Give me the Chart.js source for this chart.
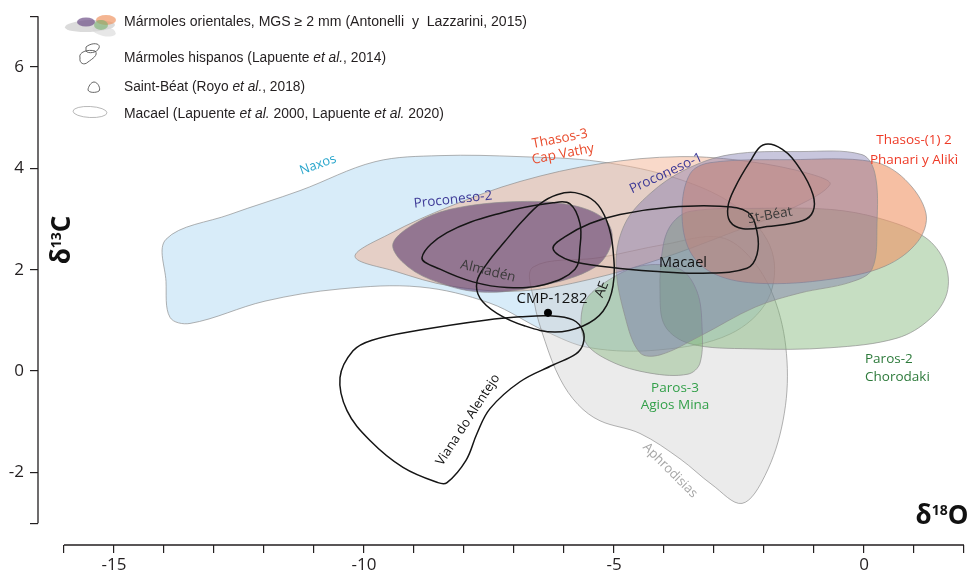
<!DOCTYPE html>
<html>
<head>
<meta charset="utf-8">
<script src="https://cdn.jsdelivr.net/npm/chart.js@4.4.1/dist/chart.umd.min.js"></script>
<style>
  html, body { margin: 0; padding: 0; background: #fff; }
  #wrap { width: 969px; height: 576px; }
</style>
</head>
<body>
<div id="wrap"><canvas id="c" width="969" height="576"></canvas></div>
<script>
// Isotopic fields of white marbles: δ18O (x) vs δ13C (y), ‰ V-PDB.
// Each field is a closed outline given as [δ18O, δ13C] vertices.

const naxos = [[-13.96,2.60],[-12.68,3.09],[-11.28,3.56],[-9.78,4.13],[-8.48,4.25],[-6.88,4.23],[-5.28,4.13],[-3.68,3.78],[-2.48,3.19],[-1.84,2.36],[-1.92,1.42],[-2.68,0.73],[-4.08,0.42],[-5.48,0.46],[-6.38,0.79],[-7.48,1.34],[-8.88,1.66],[-10.48,1.62],[-11.98,1.38],[-13.48,0.94],[-13.88,1.06],[-13.96,1.77]];
const aphrodisias = [[-6.62,2.05],[-5.28,2.24],[-3.98,2.50],[-2.88,2.64],[-2.24,2.20],[-1.76,1.34],[-1.54,0.20],[-1.62,-0.98],[-1.98,-2.06],[-2.44,-2.61],[-3.04,-2.24],[-3.68,-1.73],[-4.48,-1.23],[-5.28,-0.98],[-5.72,-0.66],[-6.08,-0.15],[-6.38,0.59],[-6.60,1.38]];
const thasos3 = [[-10.18,2.26],[-9.48,2.71],[-8.28,3.25],[-6.88,3.74],[-5.28,4.09],[-3.68,4.23],[-2.28,4.13],[-1.08,3.89],[-0.68,3.68],[-1.48,3.19],[-2.68,2.72],[-4.08,2.21],[-5.48,1.81],[-6.88,1.58],[-8.28,1.68],[-9.38,1.97]];
const paros2 = [[-3.84,2.91],[-3.48,3.15],[-2.08,3.21],[-0.68,3.19],[0.32,3.01],[1.22,2.64],[1.62,2.13],[1.66,1.54],[1.32,1.03],[0.66,0.65],[-0.68,0.46],[-2.28,0.44],[-3.48,0.54],[-3.98,0.89],[-4.08,1.57],[-4.02,2.46]];
const paros3 = [[-5.62,1.28],[-5.28,1.68],[-4.48,2.07],[-3.68,2.01],[-3.34,1.57],[-3.24,0.89],[-3.28,0.16],[-3.52,-0.06],[-4.28,-0.04],[-5.08,0.20],[-5.58,0.59]];
const thasos12 = [[-3.48,3.89],[-3.08,4.11],[-1.48,4.17],[0.18,4.13],[0.82,3.78],[1.24,3.11],[1.08,2.56],[0.42,2.07],[-0.68,1.81],[-2.08,1.73],[-2.98,1.91],[-3.48,2.36],[-3.64,3.15]];
const proconeso1 = [[-4.96,2.12],[-4.78,2.91],[-4.28,3.50],[-3.58,3.97],[-2.68,4.27],[-1.28,4.33],[-0.04,4.27],[0.22,3.89],[0.26,2.91],[0.16,2.01],[-0.28,1.75],[-1.28,1.54],[-2.18,1.26],[-3.28,0.69],[-4.08,0.32],[-4.48,0.36],[-4.78,1.08]];
const proconeso2 = [[-9.42,2.52],[-8.98,2.91],[-8.28,3.19],[-7.02,3.34],[-5.88,3.28],[-5.18,2.99],[-5.04,2.56],[-5.38,2.05],[-6.48,1.68],[-7.68,1.56],[-8.68,1.81],[-9.24,2.16]];

// Spanish / Portuguese / Pyrenean marble fields (outlines only)
const almaden = [[-8.84,2.24],[-8.34,2.73],[-7.22,3.13],[-6.22,3.32],[-5.88,3.30],[-5.68,2.91],[-5.68,2.46],[-5.78,2.01],[-6.38,1.71],[-7.14,1.65],[-7.82,1.76],[-8.48,2.01]];
const ae = [[-5.78,3.52],[-5.38,3.34],[-5.14,2.95],[-5.02,2.40],[-5.02,1.68],[-5.22,1.18],[-5.62,0.89],[-6.18,0.77],[-6.78,0.89],[-7.34,1.14],[-7.68,1.44],[-7.74,1.77],[-7.54,2.12],[-7.18,2.56],[-6.84,2.95],[-6.48,3.30],[-6.14,3.48]];
const macael = [[-6.22,2.42],[-5.96,2.66],[-5.48,2.91],[-4.88,3.09],[-3.88,3.23],[-2.88,3.25],[-2.32,3.13],[-2.14,2.75],[-2.14,2.30],[-2.34,2.03],[-3.22,1.93],[-4.22,1.97],[-5.08,2.05],[-5.88,2.18]];
const stBeat = [[-2.02,4.46],[-1.64,4.38],[-1.28,3.99],[-1.02,3.48],[-1.02,3.15],[-1.22,2.97],[-1.94,2.85],[-2.42,2.81],[-2.68,2.95],[-2.72,3.25],[-2.58,3.62],[-2.28,4.13]];
const viana = [[-6.28,1.09],[-5.82,1.01],[-5.62,0.79],[-5.62,0.53],[-5.76,0.34],[-6.22,0.12],[-6.88,-0.21],[-7.48,-0.74],[-7.74,-1.23],[-7.96,-1.76],[-8.34,-2.20],[-8.52,-2.20],[-9.22,-1.90],[-9.88,-1.37],[-10.34,-0.78],[-10.48,-0.13],[-10.22,0.40],[-9.84,0.61],[-8.88,0.81],[-7.54,1.01],[-6.88,1.07]];

// Analysed sample
const cmp1282 = [[-6.32, 1.15]];

// Axes
const xTicks = [-16,-15,-14,-13,-12,-11,-10,-9,-8,-7,-6,-5,-4,-3,-2,-1,0,1,2];
const xLabelled = [-15, -10, -5, 0];
const yTicks = [7, 6, 4, 2, 0, -2, -3];
const yLabelled = [6, 4, 2, 0, -2];
const xSpan = [-16, 2];
const ySpan = [-3, 7];

// Field names written on the plot: [text, δ18O, δ13C, rotation°, colour, size, align]
const fieldNames = [
  ['Naxos', -10.92, 4.07, -20, '#2aa6cc', 13, 'center'],
  ['Thasos-3', -6.08, 4.58, -11, '#e94b2c', 13.5, 'center'],
  ['Cap Vathy', -6.02, 4.28, -11, '#e94b2c', 13.5, 'center'],
  ['Proconeso-2', -8.22, 3.38, -6, '#3e3a97', 13.5, 'center'],
  ['Proconeso-1', -3.96, 3.90, -25, '#3e3a97', 13.5, 'center'],
  ['Thasos-(1) 2', 1.00, 4.56, 0, '#ee3a26', 13.5, 'center'],
  ['Phanari y Alikì', 1.00, 4.17, 0, '#ee3a26', 13.5, 'center'],
  ['Paros-2', 0.02, 0.24, 0, '#2d7a3b', 13.5, 'left'],
  ['Chorodaki', 0.02, -0.11, 0, '#2d7a3b', 13.5, 'left'],
  ['Paros-3', -3.78, -0.33, 0, '#33a04a', 13.5, 'center'],
  ['Agios Mina', -3.78, -0.68, 0, '#33a04a', 13.5, 'center'],
  ['Aphrodisias', -3.88, -1.96, 45, '#a6a6a6', 13, 'center'],
  ['Almadén', -7.52, 1.97, 14, '#3a3a3a', 13.5, 'center'],
  ['AE', -5.24, 1.61, -68, '#1a1a1a', 13.5, 'center'],
  ['Macael', -3.62, 2.13, 0, '#111111', 14.5, 'center'],
  ['St-Béat', -1.88, 3.07, -10, '#3a3a3a', 13.5, 'center'],
  ['Viana do Alentejo', -7.92, -0.96, -57, '#111111', 13, 'center'],
  ['CMP-1282', -6.24, 1.42, 0, '#111111', 15, 'center']
];

// Legend lines: runs of [text, italic]
const legendLines = [
  [['Mármoles orientales, MGS ≥ 2 mm (Antonelli  y  Lazzarini, 2015)', false]],
  [['Mármoles hispanos (Lapuente ', false], ['et al.', true], [', 2014)', false]],
  [['Saint-Béat (Royo ', false], ['et al.', true], [', 2018)', false]],
  [['Macael (Lapuente ', false], ['et al.', true], [' 2000, Lapuente ', false], ['et al.', true], [' 2020)', false]]
];

const toPoints = arr => arr.map(([x, y]) => ({ x, y }));

function field(label, verts, colour, order) {
  return {
    label, data: toPoints(verts), showLine: true, fill: 'shape', closed: true,
    backgroundColor: colour, borderColor: 'rgba(140,140,140,0.75)', borderWidth: 0.9,
    pointRadius: 0, tension: 0.35, order
  };
}
function outline(label, verts, order) {
  return {
    label, data: toPoints(verts), showLine: true, fill: false, closed: true,
    borderColor: '#151515', borderWidth: 1.5, pointRadius: 0, tension: 0.38, order
  };
}

const datasets = [
  { label: 'CMP-1282', data: toPoints(cmp1282), showLine: false, pointRadius: 3.6,
    pointBackgroundColor: '#000', pointBorderColor: '#000', order: 0 },
  outline('Viana do Alentejo', viana, 1),
  outline('St-Béat', stBeat, 2),
  outline('Macael', macael, 3),
  outline('AE', ae, 4),
  outline('Almadén', almaden, 5),
  field('Proconeso-2', proconeso2, 'rgba(93,60,110,0.6)', 10),
  field('Proconeso-1', proconeso1, 'rgba(110,105,165,0.38)', 11),
  field('Thasos-(1) 2', thasos12, 'rgba(240,148,102,0.6)', 12),
  field('Paros-3', paros3, 'rgba(120,176,110,0.38)', 13),
  field('Paros-2', paros2, 'rgba(120,176,110,0.42)', 14),
  field('Thasos-3', thasos3, 'rgba(244,180,148,0.5)', 15),
  field('Aphrodisias', aphrodisias, 'rgba(205,205,205,0.4)', 16),
  field('Naxos', naxos, 'rgba(192,224,245,0.62)', 17)
];

// Make every outline a smooth closed curve
const closeOutlines = {
  id: 'closeOutlines',
  afterDatasetUpdate(chart, args) {
    const ds = chart.data.datasets[args.index];
    const line = args.meta.dataset;
    if (ds.closed && line) {
      line._loop = true;
      line._fullLoop = true;
    }
  }
};

function drawLegendIcons(ctx) {
  ctx.save();
  // eastern marbles: overlapping coloured fields
  ctx.fillStyle = 'rgba(190,190,190,0.55)';
  ctx.beginPath(); ctx.ellipse(90, 26, 25, 6, -0.05, 0, Math.PI * 2); ctx.fill();
  ctx.fillStyle = 'rgba(215,215,215,0.6)';
  ctx.beginPath(); ctx.ellipse(104, 31, 12, 5, 0.2, 0, Math.PI * 2); ctx.fill();
  ctx.fillStyle = 'rgba(240,150,100,0.7)';
  ctx.beginPath(); ctx.ellipse(106, 20, 10, 5, 0, 0, Math.PI * 2); ctx.fill();
  ctx.fillStyle = 'rgba(120,176,110,0.6)';
  ctx.beginPath(); ctx.ellipse(101, 25, 7, 5, 0, 0, Math.PI * 2); ctx.fill();
  ctx.fillStyle = 'rgba(110,80,135,0.7)';
  ctx.beginPath(); ctx.ellipse(86, 22, 9, 4.5, 0, 0, Math.PI * 2); ctx.fill();
  // hispanic marbles: two small outlines
  ctx.strokeStyle = '#555'; ctx.lineWidth = 0.9;
  ctx.beginPath();
  ctx.moveTo(86, 47); ctx.bezierCurveTo(92, 42, 101, 43, 99, 48);
  ctx.bezierCurveTo(97, 53, 88, 54, 86, 51); ctx.closePath(); ctx.stroke();
  ctx.beginPath();
  ctx.moveTo(80, 58); ctx.bezierCurveTo(78, 52, 88, 49, 95, 51);
  ctx.bezierCurveTo(99, 55, 92, 59, 88, 62); ctx.bezierCurveTo(84, 66, 79, 63, 80, 58);
  ctx.stroke();
  // Saint-Béat
  ctx.beginPath();
  ctx.moveTo(94, 82); ctx.bezierCurveTo(98, 82, 101, 89, 99, 91);
  ctx.bezierCurveTo(96, 93, 89, 93, 88, 90); ctx.bezierCurveTo(88, 87, 91, 82, 94, 82);
  ctx.stroke();
  // Macael
  ctx.strokeStyle = '#b0b0b0';
  ctx.beginPath(); ctx.ellipse(90, 112, 17, 5.5, 0.05, 0, Math.PI * 2); ctx.stroke();
  ctx.restore();
}

function drawLegendText(ctx) {
  const ys = [22, 58, 87, 114];
  const widths = [403, 262, 181, 320];
  legendLines.forEach((runs, i) => {
    ctx.save();
    let natural = 0;
    runs.forEach(([t, it]) => {
      ctx.font = (it ? 'italic ' : '') + '14px "Liberation Sans", Arial, sans-serif';
      natural += ctx.measureText(t).width;
    });
    ctx.translate(124, ys[i]);
    ctx.scale(widths[i] / natural, 1);
    ctx.fillStyle = '#231f20';
    ctx.textBaseline = 'middle';
    let x = 0;
    runs.forEach(([t, it]) => {
      ctx.font = (it ? 'italic ' : '') + '14px "Liberation Sans", Arial, sans-serif';
      ctx.fillText(t, x, 0);
      x += ctx.measureText(t).width;
    });
    ctx.restore();
  });
}

function drawIsoTitle(ctx, parts) {
  // parts: [text, size, raise]
  let total = 0;
  parts.forEach(([t, s]) => { ctx.font = 'bold ' + s + 'px "Open Sans", sans-serif'; total += ctx.measureText(t).width; });
  let x = -total / 2;
  parts.forEach(([t, s, r]) => {
    ctx.font = 'bold ' + s + 'px "Open Sans", sans-serif';
    ctx.fillText(t, x, -r);
    x += ctx.measureText(t).width;
  });
}

const overlay = {
  id: 'overlay',
  afterDatasetsDraw(chart) {
    const { ctx, chartArea: area, scales: { x: xs, y: ys } } = chart;
    ctx.save();
    // axis lines spanning the labelled range
    ctx.strokeStyle = '#231f20';
    ctx.lineWidth = 1.3;
    ctx.beginPath();
    ctx.moveTo(xs.getPixelForValue(xSpan[0]), area.bottom);
    ctx.lineTo(xs.getPixelForValue(xSpan[1]), area.bottom);
    ctx.moveTo(area.left, ys.getPixelForValue(ySpan[1]));
    ctx.lineTo(area.left, ys.getPixelForValue(ySpan[0]));
    ctx.stroke();

    // field names
    fieldNames.forEach(([t, x, y, rot, col, size, align]) => {
      ctx.save();
      ctx.translate(xs.getPixelForValue(x), ys.getPixelForValue(y));
      ctx.rotate(rot * Math.PI / 180);
      ctx.font = size + 'px "Open Sans", sans-serif';
      ctx.fillStyle = col;
      ctx.textAlign = align;
      ctx.textBaseline = 'middle';
      ctx.fillText(t, 0, 0);
      ctx.restore();
    });

    // axis titles
    ctx.fillStyle = '#111';
    ctx.textBaseline = 'alphabetic';
    ctx.textAlign = 'left';
    ctx.save();
    ctx.translate(60, 240);
    ctx.rotate(-Math.PI / 2);
    ctx.translate(0, 10);
    drawIsoTitle(ctx, [['δ', 26, 0], ['13', 14, 9], ['C', 26, 0]]);
    ctx.restore();
    ctx.save();
    ctx.translate(942, 524);
    drawIsoTitle(ctx, [['δ', 26, 0], ['18', 14, 9], ['O', 26, 0]]);
    ctx.restore();

    drawLegendIcons(ctx);
    drawLegendText(ctx);
    ctx.restore();
  }
};

new Chart(document.getElementById('c'), {
  type: 'scatter',
  data: { datasets },
  options: {
    responsive: false,
    animation: false,
    events: [],
    layout: { padding: { top: 14, right: 5, left: 0, bottom: 0 } },
    plugins: { legend: { display: false }, tooltip: { enabled: false } },
    scales: {
      x: {
        type: 'linear',
        min: -16.52, max: 2,
        border: { display: false },
        grid: { drawOnChartArea: false, drawTicks: true, tickLength: 8, color: '#231f20', lineWidth: 1.2 },
        afterBuildTicks: s => { s.ticks = xTicks.map(v => ({ value: v })); },
        afterFit: s => { s.height = 31; },
        ticks: {
          autoSkip: false, maxRotation: 0, minRotation: 0, padding: 2,
          color: '#231f20', font: { family: '"Open Sans", sans-serif', size: 17 },
          callback: v => xLabelled.includes(v) ? String(v) : ''
        }
      },
      y: {
        type: 'linear',
        min: -3.43, max: 7,
        border: { display: false },
        grid: { drawOnChartArea: false, drawTicks: true, tickLength: 8, color: '#231f20', lineWidth: 1.2 },
        afterBuildTicks: s => { s.ticks = yTicks.map(v => ({ value: v })); },
        afterFit: s => { s.width = 38; },
        ticks: {
          autoSkip: false, padding: 6,
          color: '#231f20', font: { family: '"Open Sans", sans-serif', size: 17 },
          callback: v => yLabelled.includes(v) ? String(v) : ''
        }
      }
    }
  },
  plugins: [closeOutlines, overlay]
});
</script>
</body>
</html>
